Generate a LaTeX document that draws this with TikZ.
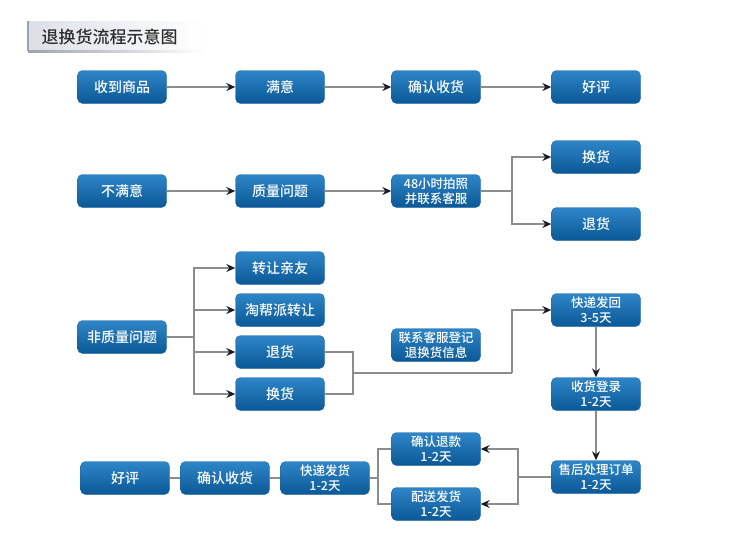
\documentclass[tikz,border=0pt]{standalone}
\usepackage{fontspec}
\setmainfont{Noto Sans CJK SC}[UprightFont={* Medium}]
\usetikzlibrary{arrows.meta}
\definecolor{flowTop}{HTML}{2E86C8}
\definecolor{flowBot}{HTML}{0B5896}
\definecolor{lineGray}{HTML}{8C8C8C}
\definecolor{tipDark}{HTML}{1C1C28}
\definecolor{titleGray}{HTML}{DCE0E6}
\definecolor{titleEdge}{HTML}{9CA3AC}
\definecolor{titleText}{HTML}{2E2E2E}
\begin{document}
\begin{tikzpicture}[x=1pt,y=-1pt]
  \tikzset{
    flow/.style={font=\fontsize{14}{16}\selectfont,text=white,align=center,minimum width=89pt,minimum height=33pt,inner sep=1pt,rounded corners=5pt,draw=flowBot!90,top color=flowTop,bottom color=flowBot},
    flowtwo/.style={flow,font=\fontsize{12.5}{15}\selectfont},
    link/.style={lineGray,line width=1.4pt},
    arr/.style={link,-{Stealth[length=9pt,width=8pt,inset=3pt,color=tipDark]}}
  }
  \useasboundingbox (0,0) rectangle (750,542);

  \shade[left color=titleGray,right color=white] (28,21) rectangle (205,51);
  \draw[titleEdge,line width=1.2pt] (28,21) -- (28,51);
  \shade[left color=titleEdge,right color=white] (28,50) rectangle (205,52);
  \node[font=\fontsize{17}{19}\selectfont,text=titleText,anchor=west] (title) at (38,37) {退换货流程示意图};

  \node[flow] (a1) at (122,87) {收到商品};
  \node[flow] (a2) at (280,87) {满意};
  \node[flow] (a3) at (436,87) {确认收货};
  \node[flow] (a4) at (596,87) {好评};

  \node[flow] (b1) at (122,191) {不满意};
  \node[flow] (b2) at (280,191) {质量问题};
  \node[flowtwo] (b3) at (436,191) {48小时拍照\\并联系客服};
  \node[flow] (b4) at (596,157) {换货};
  \node[flow] (b5) at (596,224) {退货};

  \node[flow] (c0) at (122,337) {非质量问题};
  \node[flow] (c1) at (280,268) {转让亲友};
  \node[flow] (c2) at (280,310) {淘帮派转让};
  \node[flow] (c3) at (280,352) {退货};
  \node[flow] (c4) at (280,394) {换货};
  \node[flowtwo] (c5) at (436,345) {联系客服登记\\退换货信息};
  \node[flowtwo] (c6) at (596,310) {快递发回\\3-5天};
  \node[flowtwo] (c7) at (596,394) {收货登录\\1-2天};

  \node[flow] (d1) at (125,478) {好评};
  \node[flow] (d2) at (225,478) {确认收货};
  \node[flowtwo] (d3) at (325,478) {快递发货\\1-2天};
  \node[flowtwo] (d4) at (436,449) {确认退款\\1-2天};
  \node[flowtwo] (d5) at (436,504) {配送发货\\1-2天};
  \node[flowtwo] (d6) at (596,477) {售后处理订单\\1-2天};

  \coordinate (bj) at (512,191);
  \coordinate (cj) at (194,337);
  \coordinate (rj) at (353,373);
  \coordinate (rk) at (512,373);
  \coordinate (dj) at (518,477);
  \coordinate (dk) at (378,478);

  \foreach \s/\t in {a1/a2,a2/a3,a3/a4,b1/b2,b2/b3}
    {\draw[arr] (\s) -- (\t);}
  \draw[link] (b3) -- (bj);
  \foreach \t in {b4,b5}
    {\draw[arr] (bj) |- (\t.west);}

  \draw[link] (c0) -- (cj);
  \foreach \t in {c1,c2,c3,c4}
    {\draw[arr] (cj) |- (\t.west);}
  \draw[link] (c3.east) -- (rj |- c3) -- (rj |- c4) -- (c4.east);
  \draw[link] (rj) -- (rk);
  \draw[arr] (rk) |- (c6.west);
  \draw[arr] (c6) -- (c7);
  \draw[arr] (c7) -- (d6);

  \draw[link] (d6) -- (dj);
  \foreach \t in {d4,d5}
    {\draw[arr] (dj) |- (\t.east);}
  \draw[link] (d1) -- (d2) -- (d3) -- (dk);
  \foreach \t in {d4,d5}
    {\draw[link] (dk) |- (\t.west);}
\end{tikzpicture}
\end{document}
